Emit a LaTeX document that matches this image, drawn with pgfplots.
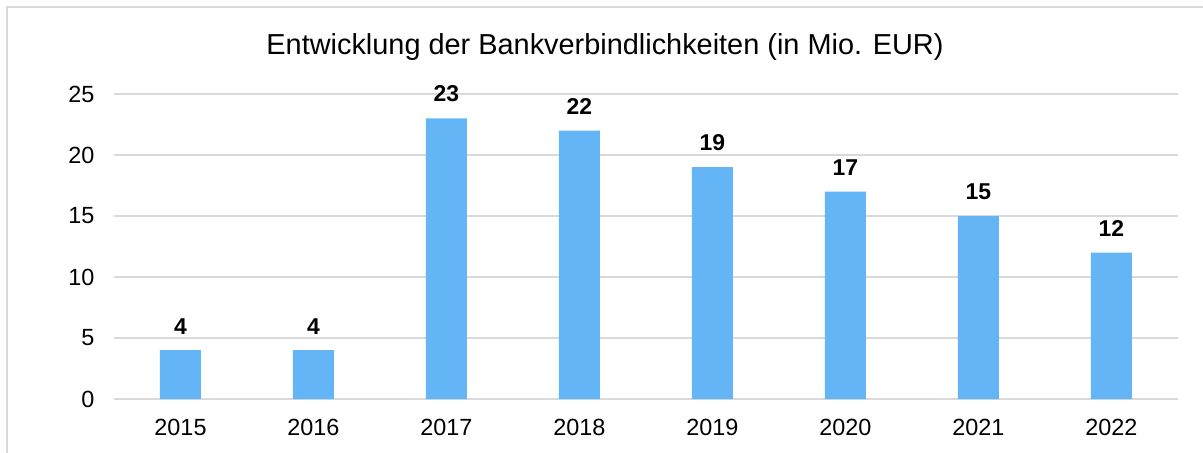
\documentclass[border=0pt]{standalone}
\usepackage{fontspec}
\setmainfont{Liberation Sans}
\usepackage{pgfplots}
\pgfplotsset{compat=1.18}
\definecolor{barblue}{HTML}{64B5F6}
\definecolor{gridgray}{HTML}{D9D9D9}
\begin{document}
\begin{tikzpicture}[x=1bp,y=1bp]
\path[use as bounding box] (-114bp,-54bp) rectangle (1089bp,399bp);
\draw[gridgray, line width=2bp] (-107bp,-54bp) -- (-107bp,392bp) -- (1089bp,392bp);
\begin{axis}[
  at={(0,0)}, anchor=south west,
  scale only axis,
  width=1064bp, height=305bp,
  xmin=-0.5, xmax=7.5, ymin=0, ymax=25,
  xtick={0,...,7},
  xticklabels={2015,2016,2017,2018,2019,2020,2021,2022},
  ytick={0,5,10,15,20,25},
  axis line style={draw=none},
  major tick length=0pt,
  ymajorgrids,
  grid style={gridgray, line width=2bp},
  /pgf/number format/assume math mode=true,
  tick label style={font=\fontsize{23.5}{26}\selectfont, text=black},
  xticklabel style={yshift=-17bp},
  yticklabel style={xshift=-16bp},
  clip=false,
  ybar, bar width=41bp,
  nodes near coords,
  every node near coord/.append style={font=\fontsize{23}{26}\selectfont\bfseries, anchor=south, inner sep=0pt, yshift=16bp, text=black},
]
\addplot[fill=barblue, draw=none] coordinates {(0,4) (1,4) (2,23) (3,22) (4,19) (5,17) (6,15) (7,12)};
\end{axis}
\node[font=\fontsize{29}{32}\selectfont] at (491bp,352bp) {Entwicklung der Bankverbindlichkeiten (in Mio. EUR)};
\end{tikzpicture}
\end{document}
